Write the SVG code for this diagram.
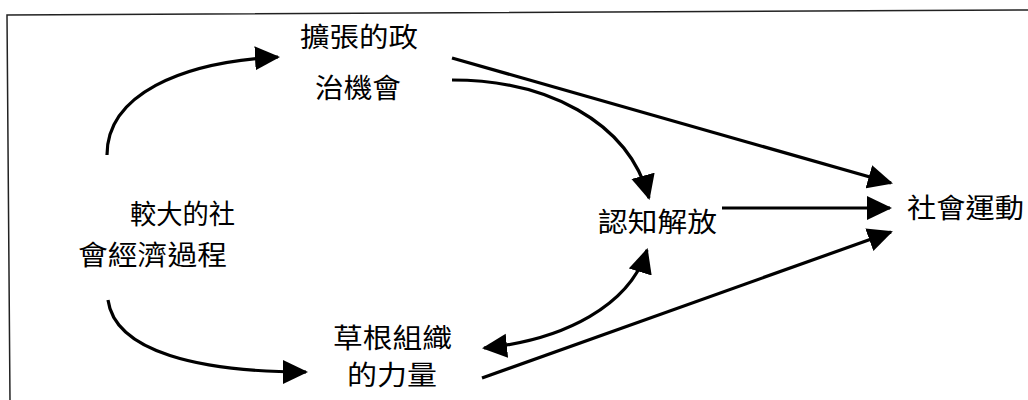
<svg xmlns="http://www.w3.org/2000/svg" width="1028" height="400" viewBox="0 0 1028 400">
<style>
.t{font-family:"Noto Sans CJK TC","Noto Sans CJK SC",sans-serif;font-size:27px;fill:#000;}
.c{fill:none;stroke:#000;stroke-width:3.2;}
</style>
<defs>
<marker id="ah" markerUnits="userSpaceOnUse" markerWidth="27" markerHeight="25" refX="23" refY="12" orient="auto-start-reverse">
<path d="M0,0 L25,12 L0,24 z" fill="#000"/>
</marker>
</defs>
<rect width="1028" height="400" fill="#fff"/>
<polyline points="1028,10 7,15 10,400" fill="none" stroke="#222" stroke-width="1.5"/>
<g id="n1"><text class="t" x="300" y="47" textLength="118" lengthAdjust="spacingAndGlyphs">擴張的政</text><text class="t" x="315" y="98" textLength="86" lengthAdjust="spacingAndGlyphs">治機會</text></g>
<g id="n2"><text class="t" x="130" y="224" textLength="105" lengthAdjust="spacingAndGlyphs">較大的社</text><text class="t" x="78" y="265" textLength="149" lengthAdjust="spacingAndGlyphs">會經濟過程</text></g>
<g id="n3"><text class="t" x="333" y="348" textLength="119" lengthAdjust="spacingAndGlyphs">草根組織</text><text class="t" x="347" y="385" textLength="90" lengthAdjust="spacingAndGlyphs">的力量</text></g>
<g id="n4"><text class="t" x="598" y="232" textLength="119" lengthAdjust="spacingAndGlyphs">認知解放</text></g>
<g id="n5"><text class="t" x="907" y="218" textLength="117" lengthAdjust="spacingAndGlyphs">社會運動</text></g>
<g id="connectors">
<path class="c" d="M107,155 C107,95 180,62 278,57" marker-end="url(#ah)"/>
<path class="c" d="M108,300 C115,352 200,372 306,372" marker-end="url(#ah)"/>
<path class="c" d="M452,58 L891,183" marker-end="url(#ah)"/>
<path class="c" d="M452,80 C545,80 628,120 649,198" marker-end="url(#ah)"/>
<path class="c" d="M722,208 L890,208" marker-end="url(#ah)"/>
<path class="c" d="M484,348 C565,340 630,305 647,250" marker-start="url(#ah)" marker-end="url(#ah)"/>
<path class="c" d="M482,378 L891,232" marker-end="url(#ah)"/>
</g>
</svg>
